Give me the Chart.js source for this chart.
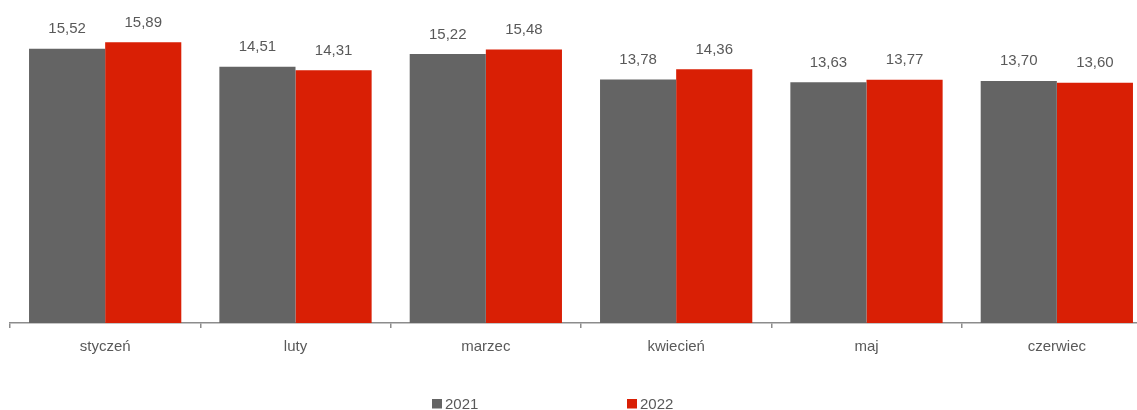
<!DOCTYPE html>
<html>
<head>
<meta charset="utf-8">
<title>Wartości miesięczne 2021–2022</title>
<script src="https://cdn.jsdelivr.net/npm/chart.js@4"></script>
<style>
  html, body { margin: 0; padding: 0; background: #ffffff; overflow: hidden; }
  #wrap { position: absolute; left: 0; top: 0; width: 1160px; height: 410px; }
</style>
</head>
<body>
<div id="wrap"><canvas id="chart"></canvas></div>
<script>
// Categories and series
const months = ['styczeń', 'luty', 'marzec', 'kwiecień', 'maj', 'czerwiec'];
const seriesNames = ['2021', '2022'];
const values2021 = [15.52, 14.51, 15.22, 13.78, 13.63, 13.70];
const values2022 = [15.89, 14.31, 15.48, 14.36, 13.77, 13.60];

const TEXT_COLOR = '#595959';
const FONT = '"Liberation Sans", Arial, sans-serif';

Chart.defaults.font.family = FONT;
Chart.defaults.font.size = 15;
Chart.defaults.color = TEXT_COLOR;

const fmt = v => v.toFixed(2).replace('.', ',');

// Value labels above every bar, positioned from the bar elements
const valueLabels = {
  id: 'valueLabels',
  afterDatasetsDraw(chart) {
    const ctx = chart.ctx;
    ctx.save();
    ctx.font = '15px ' + FONT;
    ctx.fillStyle = TEXT_COLOR;
    ctx.textAlign = 'center';
    ctx.textBaseline = 'alphabetic';
    chart.data.datasets.forEach((ds, i) => {
      chart.getDatasetMeta(i).data.forEach((bar, j) => {
        ctx.fillText(fmt(ds.data[j]), bar.x, bar.y - 15.5);
      });
    });
    ctx.restore();
  }
};

// Series key under the axis, items spaced apart
const seriesKey = {
  id: 'seriesKey',
  afterDraw(chart, args, opts) {
    const ctx = chart.ctx;
    ctx.save();
    ctx.font = '15px ' + FONT;
    ctx.textAlign = 'left';
    ctx.textBaseline = 'alphabetic';
    chart.data.datasets.forEach((ds, i) => {
      const x = opts.x[i];
      ctx.fillStyle = ds.backgroundColor;
      ctx.fillRect(x, opts.boxTop, 10, 9.5);
      ctx.fillStyle = TEXT_COLOR;
      ctx.fillText(ds.label, x + 13, opts.baseline);
    });
    ctx.restore();
  }
};

new Chart(document.getElementById('chart'), {
  type: 'bar',
  data: {
    labels: months,
    datasets: [
      { label: seriesNames[0], data: values2021, backgroundColor: '#646464' },
      { label: seriesNames[1], data: values2022, backgroundColor: '#d91f05' }
    ]
  },
  options: {
    responsive: true,
    maintainAspectRatio: false,
    animation: false,
    layout: { padding: { left: 10, right: 8, top: 5, bottom: 44 } },
    datasets: {
      bar: { categoryPercentage: 0.8, barPercentage: 1.0, borderWidth: 0 }
    },
    scales: {
      x: {
        offset: true,
        grid: {
          display: true,
          offset: true,
          drawOnChartArea: false,
          drawTicks: true,
          tickLength: 5,
          color: '#8c8c8c',
          lineWidth: 1.5
        },
        border: { display: true, color: '#8c8c8c', width: 1.5 },
        ticks: { padding: 10, color: TEXT_COLOR, font: { size: 15 }, maxRotation: 0 }
      },
      y: {
        display: false,
        min: 0,
        max: 18
      }
    },
    plugins: {
      legend: { display: false },
      tooltip: { enabled: false },
      seriesKey: { x: [432, 627], boxTop: 399, baseline: 409 }
    }
  },
  plugins: [valueLabels, seriesKey]
});
</script>
</body>
</html>
